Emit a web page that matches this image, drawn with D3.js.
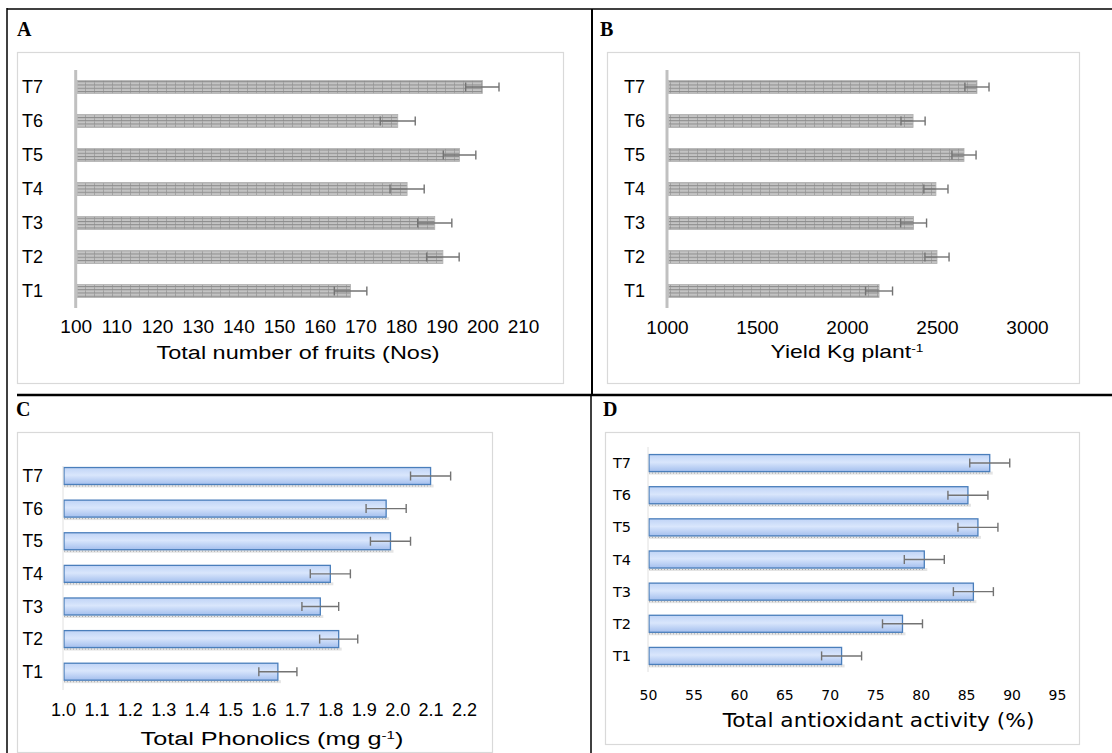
<!DOCTYPE html>
<html><head><meta charset="utf-8">
<script src="https://cdn.jsdelivr.net/npm/d3@7"></script>
<style>
html,body{margin:0;padding:0;background:#fff;}
svg{display:block;}
</style></head>
<body>
<svg id="chart" width="1112" height="753"></svg>
<script>
// ---------- DATA ----------
const categories = ["T1","T2","T3","T4","T5","T6","T7"];

const fruitsValues = [167.6, 190.3, 188.3, 181.5, 194.4, 179.2, 200.0];
const fruitsErrors = [4.0, 4.0, 4.2, 4.2, 4.0, 4.3, 4.1];
const fruitsTicks = [100,110,120,130,140,150,160,170,180,190,200,210];

const yieldValues = [2178, 2500, 2370, 2494, 2650, 2367, 2722];
const yieldErrors = [75, 67, 72, 67, 67, 67, 67];
const yieldTicks = [1000,1500,2000,2500,3000];

const phenolValues = [1.643, 1.825, 1.77, 1.80, 1.98, 1.967, 2.10];
const phenolErrors = [0.057, 0.057, 0.055, 0.06, 0.06, 0.06, 0.06];
const phenolTicks = [1.0,1.1,1.2,1.3,1.4,1.5,1.6,1.7,1.8,1.9,2.0,2.1,2.2];

const antioxValues = [71.3, 78.0, 85.8, 80.4, 86.3, 85.2, 87.6];
const antioxErrors = [2.2, 2.2, 2.2, 2.2, 2.2, 2.2, 2.2];
const antioxTicks = [50,55,60,65,70,75,80,85,90,95];

// ---------- DRAW ----------
const svg = d3.select("#chart");
const defs = svg.append("defs");

// grey hatched pattern (panels A, B)
const pat = defs.append("pattern").attr("id","hatch").attr("patternUnits","userSpaceOnUse")
  .attr("width",9).attr("height",3.25);
pat.append("rect").attr("width",9).attr("height",3.25).attr("fill","#c4c4c4");
pat.append("rect").attr("y",0).attr("width",9).attr("height",1).attr("fill","#8a8a8a");
pat.append("rect").attr("x",4).attr("y",1).attr("width",1).attr("height",2.25).attr("fill","#a2a2a2");

// blue gradient (panels C, D)
const grad = defs.append("linearGradient").attr("id","blue").attr("x1",0).attr("y1",0).attr("x2",0).attr("y2",1);
grad.append("stop").attr("offset","0%").attr("stop-color","#c0d4f6");
grad.append("stop").attr("offset","45%").attr("stop-color","#d9e6fc");
grad.append("stop").attr("offset","100%").attr("stop-color","#a4bfee");

function panel(cfg){
  const g = svg.append("g");
  g.append("rect").attr("x",cfg.box[0]+0.5).attr("y",cfg.box[1]+0.5)
    .attr("width",cfg.box[2]-cfg.box[0]).attr("height",cfg.box[3]-cfg.box[1])
    .attr("fill","#fff").attr("stroke","#d9d9d9").attr("stroke-width",1.2);
  g.append("text").attr("x",cfg.letterPos[0]).attr("y",cfg.letterPos[1])
    .attr("font-family","'Liberation Serif','Times New Roman',serif").attr("font-weight","bold")
    .attr("font-size",20).attr("fill","#000").text(cfg.letter);

  const x = d3.scaleLinear().domain(cfg.domain).range(cfg.xRange);
  const y = d3.scaleBand().domain(categories.slice().reverse()).range(cfg.yRange).paddingInner(cfg.pad).paddingOuter(cfg.pad/2);
  const bh = y.bandwidth();
  const rows = categories.map((c,i)=>({c, v:cfg.values[i], e:cfg.errors[i]}));
  const x0 = x(cfg.domain[0]);

  if(cfg.style==="blue"){
    g.selectAll(".shadow").data(rows).join("rect")
      .attr("x",x0+1).attr("y",d=>y(d.c)+bh)
      .attr("width",d=>x(d.v)-x0+2).attr("height",3)
      .attr("fill","#e4e4e4");
    g.selectAll(".shadow2").data(rows).join("line")
      .attr("x1",x0+1).attr("x2",d=>x(d.v))
      .attr("y1",d=>y(d.c)+bh+1.5).attr("y2",d=>y(d.c)+bh+1.5)
      .attr("stroke","#9a9a9a").attr("stroke-width",0.8).attr("stroke-dasharray","1,2");
  }
  g.selectAll(".bar").data(rows).join("rect")
    .attr("x",x0+(cfg.style==="blue"?1:1.5))
    .attr("y",d=>y(d.c))
    .attr("width",d=>x(d.v)-x0-(cfg.style==="blue"?1:1.5))
    .attr("height",bh)
    .attr("fill",cfg.style==="blue"?"url(#blue)":"url(#hatch)")
    .attr("stroke",cfg.style==="blue"?"#4a7ebb":"#b0b0b0")
    .attr("stroke-width",cfg.style==="blue"?1.3:0.8);

  g.append("line").attr("x1",cfg.xRange[0]).attr("x2",cfg.xRange[0])
    .attr("y1",cfg.axisY[0]).attr("y2",cfg.axisY[1])
    .attr("stroke",cfg.axisColor).attr("stroke-width",cfg.axisWidth);

  const eg = g.selectAll(".err").data(rows).join("g");
  eg.append("line").attr("x1",d=>x(d.v-d.e)).attr("x2",d=>x(d.v+d.e))
    .attr("y1",d=>y(d.c)+bh/2).attr("y2",d=>y(d.c)+bh/2)
    .attr("stroke","#737373").attr("stroke-width",1.4);
  [-1,1].forEach(s=>{
    eg.append("line").attr("x1",d=>x(d.v+s*d.e)).attr("x2",d=>x(d.v+s*d.e))
      .attr("y1",d=>y(d.c)+bh/2-4.5).attr("y2",d=>y(d.c)+bh/2+4.5)
      .attr("stroke","#737373").attr("stroke-width",1.4);
  });

  g.selectAll(".cat").data(rows).join("text")
    .attr("x",cfg.catX).attr("y",d=>y(d.c)+bh/2).attr("dy","0.35em")
    .attr("text-anchor","end").attr("font-family",cfg.font).attr("font-size",cfg.catSize)
    .attr("fill","#000").text(d=>d.c);

  const ax = d3.axisBottom(x).tickValues(cfg.ticks).tickSize(0).tickFormat(cfg.fmt);
  const axg = g.append("g").attr("transform",`translate(0,${cfg.tickY})`).call(ax);
  axg.select(".domain").remove();
  axg.selectAll("text").attr("font-family",cfg.font).attr("font-size",cfg.tickSize)
    .attr("fill","#000").attr("dy",0).attr("y",0);

  // title, stretched horizontally to the width seen in the reference
  const tg = g.append("g");
  const t = tg.append("text").attr("x",0).attr("y",0)
    .attr("text-anchor","middle").attr("font-family",cfg.font).attr("font-size",cfg.titleSize).attr("fill","#000");
  cfg.title.forEach(p=>{
    const ts = t.append("tspan").text(p.t);
    if(p.sup){ ts.attr("font-size",cfg.titleSize*0.6).attr("baseline-shift","super"); }
  });
  const bb = t.node().getBBox();
  const sx = cfg.titleWidth / bb.width;
  const cx = bb.x + bb.width/2;
  tg.attr("transform",`translate(${cfg.titlePos[0]},${cfg.titlePos[1]}) scale(${sx},1) translate(${-cx},0)`);
}

const arial = "'Liberation Sans',Arial,sans-serif";
const verdana = "'DejaVu Sans',Verdana,sans-serif";

panel({letter:"A", letterPos:[17,36], box:[17,52,563,383], domain:[100,210], xRange:[75.7,523],
  yRange:[70,308], pad:0.62, values:fruitsValues, errors:fruitsErrors, ticks:fruitsTicks, fmt:d3.format("d"),
  style:"grey", axisY:[70,308], axisColor:"#c0c0c0", axisWidth:3, catX:43, catSize:18, font:arial,
  tickY:333, tickSize:19, titlePos:[298,359], titleSize:19, titleWidth:283, title:[{t:"Total number of fruits (Nos)"}]});

panel({letter:"B", letterPos:[600,36], box:[607,52,1079,383], domain:[1000,3000], xRange:[667,1027],
  yRange:[70,308], pad:0.62, values:yieldValues, errors:yieldErrors, ticks:yieldTicks, fmt:d3.format("d"),
  style:"grey", axisY:[70,308], axisColor:"#c0c0c0", axisWidth:3, catX:645, catSize:18, font:arial,
  tickY:334, tickSize:19, titlePos:[847,358], titleSize:19, titleWidth:153, title:[{t:"Yield Kg plant"},{t:"-1",sup:true}]});

panel({letter:"C", letterPos:[16,416], box:[17,432,492,752], domain:[1.0,2.2], xRange:[63,464],
  yRange:[459.7,688], pad:0.48, values:phenolValues, errors:phenolErrors, ticks:phenolTicks, fmt:d3.format(".1f"),
  style:"blue", axisY:[466,690], axisColor:"#e0e0e0", axisWidth:1, catX:43, catSize:17.5, font:arial,
  tickY:716, tickSize:18, titlePos:[272,745], titleSize:19, titleWidth:263, title:[{t:"Total Phonolics (mg g"},{t:"-1",sup:true},{t:")"}]});

panel({letter:"D", letterPos:[603,416], box:[605,432,1079,744], domain:[50,95], xRange:[648,1057],
  yRange:[447,672], pad:0.47, values:antioxValues, errors:antioxErrors, ticks:antioxTicks, fmt:d3.format("d"),
  style:"blue", axisY:[447,672], axisColor:"#e0e0e0", axisWidth:1, catX:631, catSize:14.5, font:verdana,
  tickY:700, tickSize:14, titlePos:[878,727], titleSize:19, titleWidth:313, title:[{t:"Total antioxidant activity (%)"}]});

const frame = svg.append("g").attr("stroke","#000");
frame.append("line").attr("x1",7).attr("x2",7).attr("y1",8).attr("y2",753).attr("stroke-width",1.5);
frame.append("line").attr("x1",7).attr("x2",1112).attr("y1",9).attr("y2",9).attr("stroke-width",1.5);
frame.append("line").attr("x1",592).attr("x2",592).attr("y1",9).attr("y2",395).attr("stroke-width",2);
frame.append("line").attr("x1",17).attr("x2",1112).attr("y1",395).attr("y2",395).attr("stroke-width",2.5);
frame.append("line").attr("x1",591).attr("x2",591).attr("y1",395).attr("y2",753).attr("stroke-width",1.5);
</script>
</body></html>
